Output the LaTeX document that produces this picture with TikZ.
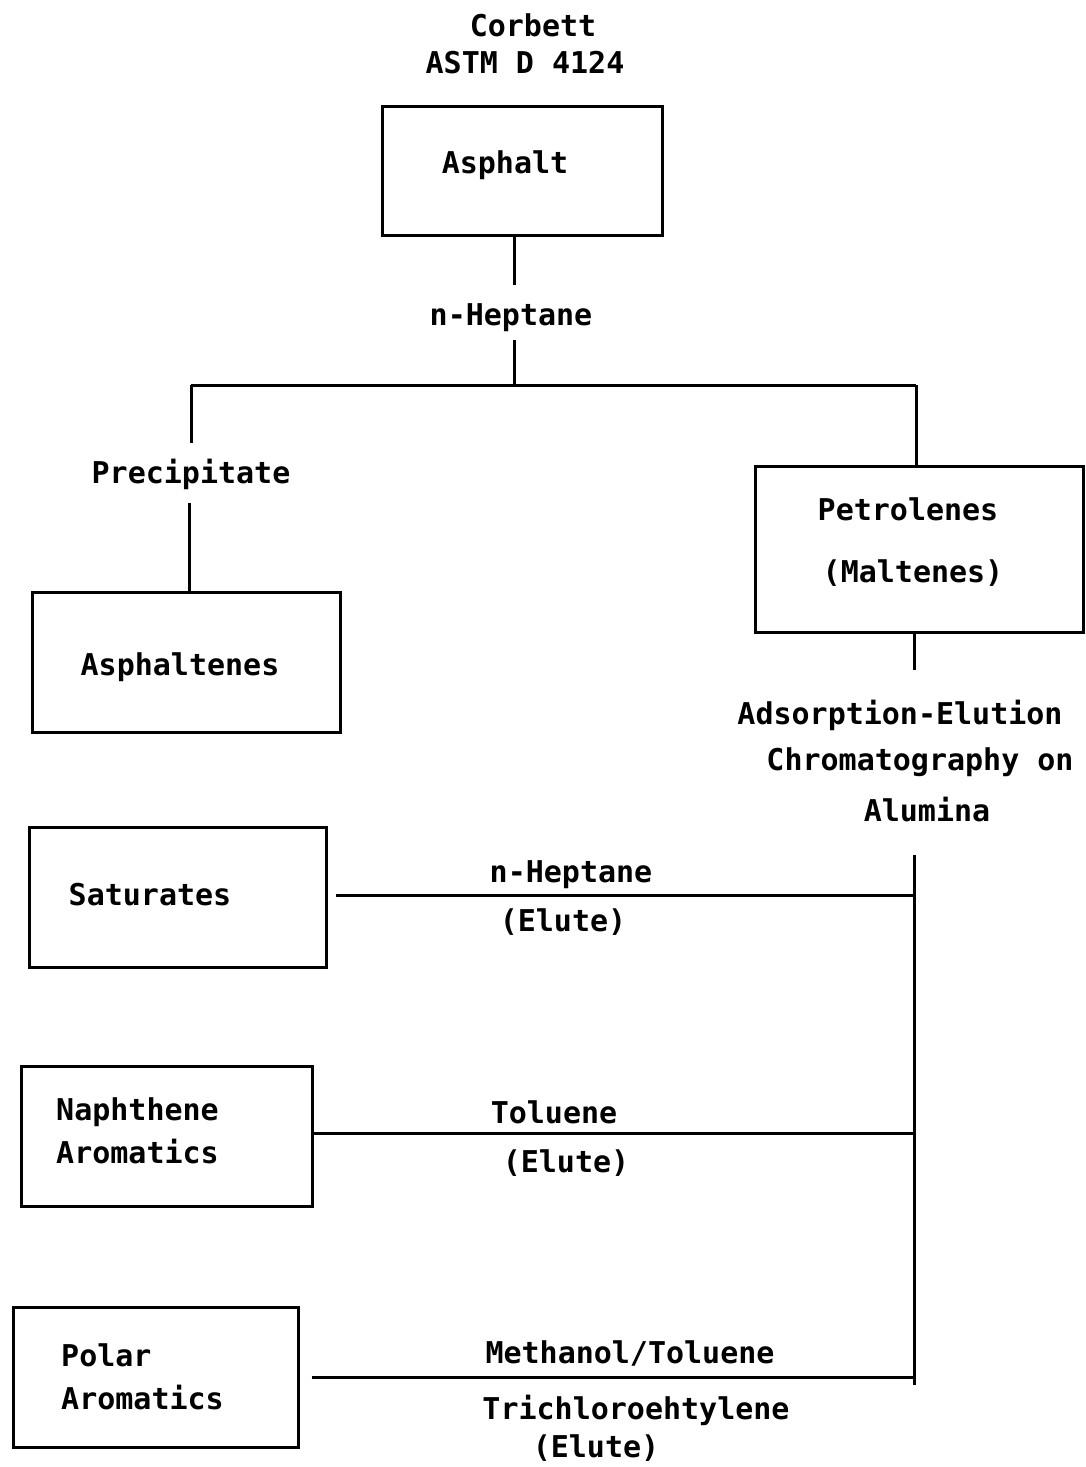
\documentclass[tikz,border=0pt]{standalone}
\usepackage{fontspec}
\setmainfont{DejaVu Sans Mono}
\begin{document}
\begin{tikzpicture}[x=1pt,y=-1pt,
  lbl/.style={font=\fontsize{30}{43}\selectfont\bfseries, inner sep=2pt},
  boxnode/.style={draw, line width=3pt, inner sep=0pt},
  conn/.style={line width=3pt}]
\useasboundingbox (0,0) rectangle (1085,1467);
\fill[white] (0,0) rectangle (1085,1467);
% titles
\node[lbl] (corbett) at (533,25) {Corbett};
\node[lbl] (astm) at (525,63) {ASTM D 4124};
% boxes
\node[boxnode, minimum width=280pt, minimum height=129pt] (asphalt) at (522,170.5) {};
\node[lbl] (asphalttxt) at (505,165) {Asphalt};
\node[boxnode, minimum width=308pt, minimum height=140pt] (asphaltenes) at (186,662) {};
\node[lbl] (asphaltenestxt) at (180,667) {Asphaltenes};
\node[boxnode, minimum width=328pt, minimum height=166pt] (petrolenes) at (919,549) {};
\node[lbl] (petrotxt) at (908,509) {Petrolenes};
\node[lbl] (maltxt) at (913,573) {(Maltenes)};
\node[boxnode, minimum width=297pt, minimum height=140pt] (saturates) at (177.5,897) {};
\node[lbl] (sattxt) at (150,895) {Saturates};
\node[boxnode, minimum width=291pt, minimum height=140pt] (naphthene) at (166.5,1136) {};
\node[lbl, anchor=west, align=left] (naphtxt) at (54,1131) {Naphthene\\Aromatics};
\node[boxnode, minimum width=285pt, minimum height=140pt] (polar) at (155.5,1377) {};
\node[lbl, anchor=west, align=left] (polartxt) at (59,1377) {Polar\\Aromatics};
% top flow
\node[lbl] (hep1) at (511,318) {n-Heptane};
\coordinate (J) at (514,385);
\coordinate (L) at (191,385);
\coordinate (R) at (916,385);
\draw[conn] (asphalt.south -| J) -- ++(0,48);
\draw[conn] (J) ++(0,-45) -- (J);
\draw[conn] (L) -- (R);
\node[lbl] (precip) at (191,474) {Precipitate};
\draw[conn] (L) -- ++(0,58);
\draw[conn] (189,503) -- (189,591);
\draw[conn] (R) -- (petrolenes.north -| R);
% chromatography
\draw[conn] (petrolenes.south -| 914,0) -- ++(0,36);
\node[lbl] (ads1) at (900,715) {Adsorption-Elution};
\node[lbl] (ads2) at (920,762) {Chromatography on};
\node[lbl] (ads3) at (927,810) {Alumina};
\coordinate (VT) at (914,855);
\coordinate (VB) at (914,1385);
\draw[conn] (VT) -- (VB);
% branches
\draw[conn] ([xshift=8pt,yshift=2pt]saturates.east) -- ([yshift=2pt]saturates.east -| VT);
\node[lbl] (hep2) at (571,875) {n-Heptane};
\node[lbl] (el1) at (563,922) {(Elute)};
\draw[conn] ([xshift=-3pt,yshift=3pt]naphthene.east) -- ([yshift=3pt]naphthene.east -| VT);
\node[lbl] (tol) at (554,1112) {Toluene};
\node[lbl] (el2) at (566,1163) {(Elute)};
\draw[conn] ([xshift=12pt]polar.east) -- (polar.east -| VT);
\node[lbl] (meth) at (630,1353) {Methanol/Toluene};
\node[lbl] (tri) at (636,1410) {Trichloroehtylene};
\node[lbl] (el3) at (596,1448) {(Elute)};
\end{tikzpicture}
\end{document}
